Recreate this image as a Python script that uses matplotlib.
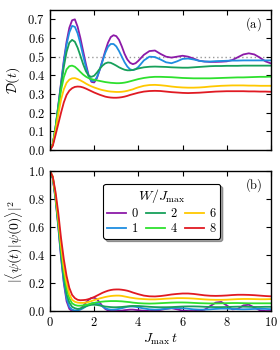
import numpy as np
import matplotlib
matplotlib.use("Agg")
import matplotlib.pyplot as plt
from matplotlib.ticker import FuncFormatter, MultipleLocator

plt.rcParams['mathtext.fontset'] = 'cm'
plt.rcParams['font.family'] = ['DejaVu Serif']

t = [0.0, 0.125, 0.25, 0.375, 0.5, 0.625, 0.75, 0.875, 1.0, 1.125, 1.25, 1.375, 1.5,
     1.625, 1.75, 1.875, 2.0, 2.125, 2.25, 2.375, 2.5, 2.625, 2.75, 2.875, 3.0, 3.125,
     3.25, 3.375, 3.5, 3.625, 3.75, 3.875, 4.0,
     4.25, 4.5, 4.75, 5.0, 5.25, 5.5, 5.75, 6.0, 6.25, 6.5, 6.75, 7.0, 7.25, 7.5, 7.75,
     8.0, 8.25, 8.5, 8.75, 9.0, 9.25, 9.5, 9.75, 10.0]

W_labels = ['0', '1', '2', '4', '6', '8']
colors = ['#8c1aa8', '#1f8de0', '#17a05a', '#2ee02e', '#ffc800', '#e01a22']

# Panel (a): D(t)
D_w0 = [0.0, 0.03, 0.12, 0.24, 0.36, 0.48, 0.58, 0.655, 0.695, 0.70, 0.66, 0.60, 0.53,
        0.46, 0.40, 0.365, 0.362, 0.385, 0.43, 0.48, 0.53, 0.575, 0.605, 0.615, 0.61, 0.59,
        0.555, 0.515, 0.485, 0.467, 0.46, 0.465, 0.478,
        0.51, 0.53, 0.533, 0.515, 0.50, 0.495, 0.50, 0.505, 0.50, 0.49, 0.478, 0.474, 0.472,
        0.472, 0.473, 0.475, 0.482, 0.497, 0.512, 0.518, 0.512, 0.495, 0.475, 0.464]
D_w1 = [0.0, 0.03, 0.12, 0.235, 0.355, 0.47, 0.565, 0.63, 0.665, 0.66, 0.625, 0.57, 0.505,
        0.445, 0.395, 0.37, 0.37, 0.39, 0.43, 0.475, 0.52, 0.553, 0.568, 0.568, 0.555, 0.53,
        0.50, 0.47, 0.447, 0.432, 0.428, 0.433, 0.445,
        0.48, 0.50, 0.498, 0.485, 0.47, 0.465, 0.475, 0.488, 0.49, 0.485, 0.478, 0.474,
        0.474, 0.476, 0.477, 0.478, 0.479, 0.479, 0.48, 0.48, 0.48, 0.48, 0.48, 0.48]
D_w2 = [0.0, 0.03, 0.12, 0.23, 0.345, 0.445, 0.525, 0.575, 0.59, 0.58, 0.548, 0.505, 0.46,
        0.422, 0.398, 0.392, 0.398, 0.415, 0.435, 0.452, 0.464, 0.469, 0.467, 0.46, 0.452,
        0.443, 0.436, 0.43, 0.427, 0.427, 0.429, 0.433, 0.437,
        0.443, 0.446, 0.447, 0.446, 0.445, 0.443, 0.442, 0.441, 0.441, 0.443, 0.445, 0.447,
        0.449, 0.45, 0.45, 0.451, 0.451, 0.451, 0.452, 0.452, 0.452, 0.452, 0.452, 0.452]
D_w4 = [0.0, 0.03, 0.115, 0.22, 0.32, 0.39, 0.432, 0.449, 0.452, 0.446, 0.433, 0.418, 0.404,
        0.393, 0.385, 0.38, 0.376, 0.373, 0.37, 0.367, 0.364, 0.362, 0.36, 0.359, 0.358,
        0.358, 0.359, 0.361, 0.364, 0.368, 0.372, 0.376, 0.38,
        0.386, 0.39, 0.392, 0.392, 0.391, 0.39, 0.388, 0.386, 0.385, 0.384, 0.384, 0.384,
        0.384, 0.385, 0.386, 0.387, 0.388, 0.389, 0.389, 0.39, 0.391, 0.392, 0.392, 0.393]
D_w6 = [0.0, 0.028, 0.10, 0.19, 0.27, 0.325, 0.36, 0.377, 0.384, 0.385, 0.38, 0.373, 0.365,
        0.356, 0.348, 0.341, 0.335, 0.33, 0.325, 0.321, 0.318, 0.315, 0.313, 0.312, 0.311,
        0.311, 0.312, 0.314, 0.317, 0.321, 0.325, 0.331, 0.336,
        0.344, 0.348, 0.349, 0.347, 0.344, 0.34, 0.337, 0.335, 0.334, 0.334, 0.335, 0.337,
        0.34, 0.342, 0.344, 0.345, 0.346, 0.346, 0.346, 0.345, 0.345, 0.344, 0.344, 0.344]
D_w8 = [0.0, 0.022, 0.08, 0.14, 0.20, 0.255, 0.295, 0.318, 0.331, 0.338, 0.34, 0.339, 0.335,
        0.329, 0.322, 0.315, 0.308, 0.302, 0.296, 0.291, 0.286, 0.283, 0.281, 0.28, 0.28,
        0.281, 0.283, 0.286, 0.29, 0.295, 0.299, 0.303, 0.307,
        0.313, 0.316, 0.317, 0.316, 0.313, 0.31, 0.308, 0.306, 0.305, 0.306, 0.307, 0.309,
        0.311, 0.313, 0.314, 0.315, 0.315, 0.315, 0.315, 0.314, 0.314, 0.313, 0.313, 0.312]

# Panel (b): return probability
P_w0 = [1.0, 0.95, 0.80, 0.60, 0.38, 0.20, 0.07, 0.015, 0.0, 0.0, 0.005, 0.015, 0.035, 0.06,
        0.08, 0.093, 0.095, 0.085, 0.06, 0.035, 0.015, 0.004, 0.0, 0.0, 0.0, 0.001, 0.003,
        0.006, 0.008, 0.01, 0.01, 0.008, 0.006,
        0.002, 0.0, 0.002, 0.008, 0.015, 0.02, 0.012, 0.003, 0.0, 0.0, 0.002, 0.01, 0.035,
        0.06, 0.065, 0.04, 0.012, 0.015, 0.04, 0.045, 0.025, 0.005, 0.0, 0.0]
P_w1 = [1.0, 0.95, 0.80, 0.61, 0.39, 0.21, 0.09, 0.03, 0.01, 0.004, 0.005, 0.01, 0.02, 0.033,
        0.045, 0.055, 0.058, 0.055, 0.045, 0.032, 0.02, 0.013, 0.01, 0.01, 0.012, 0.015,
        0.02, 0.025, 0.03, 0.032, 0.032, 0.03, 0.026,
        0.018, 0.012, 0.01, 0.012, 0.016, 0.02, 0.022, 0.02, 0.016, 0.012, 0.01, 0.01,
        0.012, 0.015, 0.017, 0.017, 0.015, 0.013, 0.012, 0.013, 0.015, 0.016, 0.015, 0.013]
P_w2 = [1.0, 0.95, 0.81, 0.62, 0.41, 0.24, 0.12, 0.06, 0.03, 0.02, 0.015, 0.018, 0.025,
        0.033, 0.04, 0.044, 0.045, 0.043, 0.04, 0.036, 0.032, 0.03, 0.028, 0.027, 0.027,
        0.028, 0.029, 0.031, 0.033, 0.035, 0.036, 0.036, 0.036,
        0.033, 0.03, 0.028, 0.027, 0.027, 0.028, 0.03, 0.032, 0.033, 0.033, 0.032, 0.03,
        0.029, 0.028, 0.028, 0.029, 0.03, 0.031, 0.031, 0.03, 0.029, 0.029, 0.03, 0.03]
P_w4 = [1.0, 0.955, 0.82, 0.64, 0.44, 0.28, 0.16, 0.09, 0.055, 0.043, 0.038, 0.038, 0.04,
        0.044, 0.048, 0.053, 0.058, 0.062, 0.065, 0.067, 0.069, 0.07, 0.071, 0.071, 0.071,
        0.07, 0.069, 0.067, 0.065, 0.063, 0.06, 0.058, 0.056,
        0.054, 0.053, 0.054, 0.056, 0.058, 0.06, 0.061, 0.061, 0.06, 0.058, 0.056, 0.055,
        0.054, 0.054, 0.055, 0.056, 0.057, 0.057, 0.056, 0.055, 0.055, 0.055, 0.055, 0.055]
P_w6 = [1.0, 0.96, 0.83, 0.66, 0.47, 0.31, 0.20, 0.12, 0.08, 0.066, 0.06, 0.058, 0.058,
        0.061, 0.065, 0.071, 0.078, 0.084, 0.09, 0.095, 0.10, 0.104, 0.107, 0.109, 0.11,
        0.11, 0.108, 0.104, 0.10, 0.096, 0.093, 0.09, 0.088,
        0.085, 0.083, 0.083, 0.085, 0.088, 0.09, 0.092, 0.092, 0.091, 0.089, 0.086, 0.083,
        0.081, 0.08, 0.08, 0.081, 0.083, 0.085, 0.086, 0.086, 0.085, 0.084, 0.084, 0.085]
P_w8 = [1.0, 0.96, 0.85, 0.70, 0.52, 0.37, 0.25, 0.165, 0.115, 0.092, 0.08, 0.077, 0.078,
        0.08, 0.085, 0.092, 0.10, 0.11, 0.12, 0.13, 0.138, 0.145, 0.15, 0.153, 0.154, 0.154,
        0.152, 0.149, 0.145, 0.139, 0.132, 0.126, 0.12,
        0.11, 0.105, 0.104, 0.107, 0.112, 0.118, 0.122, 0.125, 0.125, 0.122, 0.117, 0.112,
        0.109, 0.108, 0.109, 0.111, 0.114, 0.116, 0.116, 0.115, 0.113, 0.11, 0.107, 0.105]

D_all = [D_w0, D_w1, D_w2, D_w4, D_w6, D_w8]
P_all = [P_w0, P_w1, P_w2, P_w4, P_w6, P_w8]

fig = plt.figure(figsize=(2.8, 3.5), dpi=100)
ax1 = fig.add_axes([0.1786, 0.5714, 0.789, 0.40])
ax2 = fig.add_axes([0.1786, 0.1114, 0.789, 0.40])

fmt = FuncFormatter(lambda v, p: r'$%.1f$' % v)

for ax in (ax1, ax2):
    ax.tick_params(direction='in', top=True, right=True, labelsize=9, length=3.5, width=0.8)
    ax.set_xlim(0, 10)
    ax.xaxis.set_major_locator(MultipleLocator(2))
    ax.yaxis.set_major_formatter(fmt)
    for s in ax.spines.values():
        s.set_linewidth(1.0)

ax1.axhline(0.5, color='#999999', ls=(0, (1, 2)), lw=1.0, zorder=1)
for y, c in zip(D_all, colors):
    ax1.plot(t, y, color=c, lw=1.3)
ax1.set_ylim(0, 0.75)
ax1.yaxis.set_major_locator(MultipleLocator(0.1))
ax1.set_xticklabels([])
ax1.set_ylabel(r'$\mathcal{D}(t)$', fontsize=10, labelpad=4)
ax1.text(0.92, 0.9, r'$\mathrm{(a)}$', transform=ax1.transAxes, ha='center', va='center', fontsize=9)

for y, c, lab in zip(P_all, colors, W_labels):
    ax2.plot(t, y, color=c, lw=1.3, label=r'$%s$' % lab)
ax2.set_ylim(0, 1.0)
ax2.yaxis.set_major_locator(MultipleLocator(0.2))
ax2.xaxis.set_major_formatter(FuncFormatter(lambda v, p: r'$%d$' % v))
ax2.set_ylabel(r'$|\langle\psi(t)|\psi(0)\rangle|^2$', fontsize=10, labelpad=2)
ax2.set_xlabel(r'$J_{\max}\,t$', fontsize=10, labelpad=2)
ax2.text(0.92, 0.9, r'$\mathrm{(b)}$', transform=ax2.transAxes, ha='center', va='center', fontsize=9)

leg = ax2.legend(ncol=3, title=r'$W/J_{\max}$', fontsize=9, title_fontsize=10,
                 loc='upper center', bbox_to_anchor=(0.505, 0.955), frameon=True,
                 fancybox=True, shadow=True, handlelength=1.5, columnspacing=0.6,
                 handletextpad=0.4, labelspacing=0.15, borderpad=0.3)
leg.get_frame().set_edgecolor('black')
leg.get_frame().set_linewidth(0.8)
leg.get_frame().set_alpha(1.0)

fig.savefig('out.png', dpi=100)
